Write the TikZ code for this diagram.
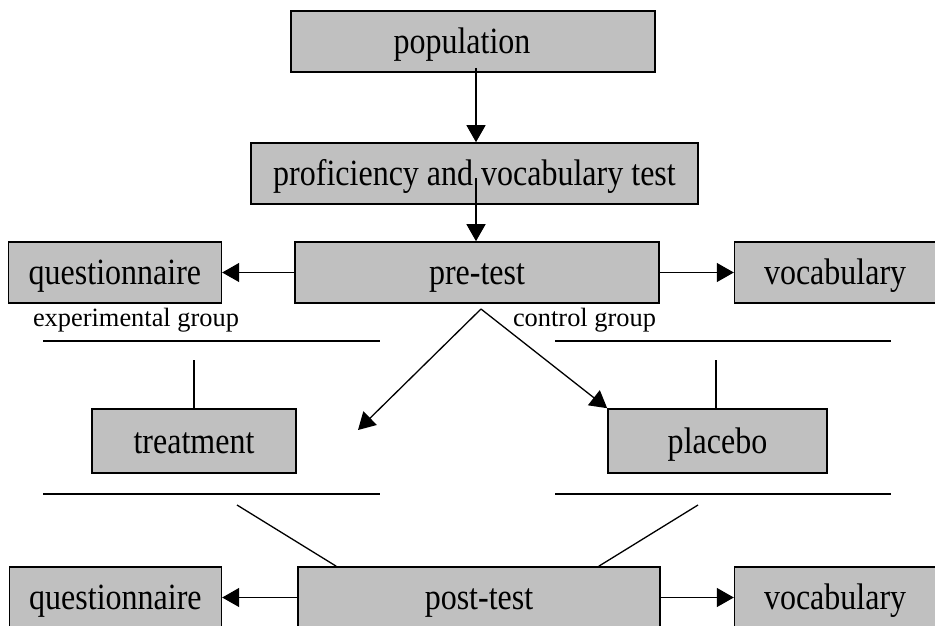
\documentclass[tikz,border=0pt]{standalone}
\usepackage{fontspec}
\setmainfont{Liberation Serif}
\newfontfamily\boxfont{Liberation Serif}[FakeStretch=0.865]
\usetikzlibrary{positioning, arrows.meta}
\definecolor{boxgray}{RGB}{192,192,192}
\tikzset{
  box/.style={draw, fill=boxgray, line width=1.6pt, minimum height=61pt, inner sep=0pt,
    text height=25pt, text depth=1pt, font=\boxfont\fontsize{37}{42}\selectfont},
  grouplabel/.style={inner sep=0pt, font=\fontsize{26.4}{30}\selectfont}
}

\begin{document}
\begin{tikzpicture}[x=1pt, y=-1pt, line width=1.3pt, >={Triangle[length=17pt,width=19pt]}]
    \useasboundingbox (0,0) rectangle (935,625);
    \node[box, minimum width=364pt] (pop) at (473,41.5) {population\hspace*{22pt}};
    \node[box, minimum width=447pt] (prof) at (474.5,173.5) {proficiency and vocabulary test};
    \node[box, minimum width=364pt] (pre) at (477,272.5) {pre-test};
    \node[box, minimum width=213pt] (qpre) [left=72pt of pre] {questionnaire};
    \node[box, minimum width=201pt] (vpre) [right=74pt of pre] {vocabulary};
    \node[grouplabel] (explabel) at (136,320) {experimental group};
    \node[grouplabel] (ctllabel) at (584.5,320) {control group};
    \node[box, minimum width=204pt, minimum height=64pt] (treat) at (194,441) {treatment};
    \node[box, minimum width=219pt, minimum height=64pt] (placebo) at (717.5,441) {placebo};
    \node[box, minimum width=362pt] (post) at (479,597.5) {post-test};
    \node[box, minimum width=212pt] (qpost) [left=75pt of post] {questionnaire};
    \node[box, minimum width=201pt] (vpost) [right=73pt of post] {vocabulary};
    \coordinate (fork) at (481,309);
    \coordinate (exptip) at (358,430);
    \coordinate (exptop) at (194,360);
    \coordinate (ctltop) at (716,360);
    \coordinate (expbot) at (237,505);
    \coordinate (ctlbot) at (698,505);
    \foreach \y in {341,494} {
        \draw (43,\y) -- (380,\y);
        \draw (555,\y) -- (891,\y);
    }
    \draw[->] ([xshift=3pt,yshift=5pt]pop.south) -- ([xshift=1.5pt]prof.north);
    \draw[->] ([xshift=1.5pt,yshift=-4.5pt]prof.center) -- ([xshift=-1pt]pre.north);
    \draw[->] (pre.west) -- (qpre.east);
    \draw[->] (pre.east) -- (vpre.west);
    \draw[->] (fork) -- (exptip);
    \draw[->] (fork) -- (placebo.north west);
    \draw (exptop) -- (treat.north);
    \draw (ctltop) -- (ctltop |- placebo.north);
    \draw (expbot) -- ([xshift=39pt]post.north west);
    \draw (ctlbot) -- ([xshift=-62pt]post.north east);
    \draw[->] (post.west) -- (qpost.east);
    \draw[->] (post.east) -- (vpost.west);
\end{tikzpicture}
\end{document}
